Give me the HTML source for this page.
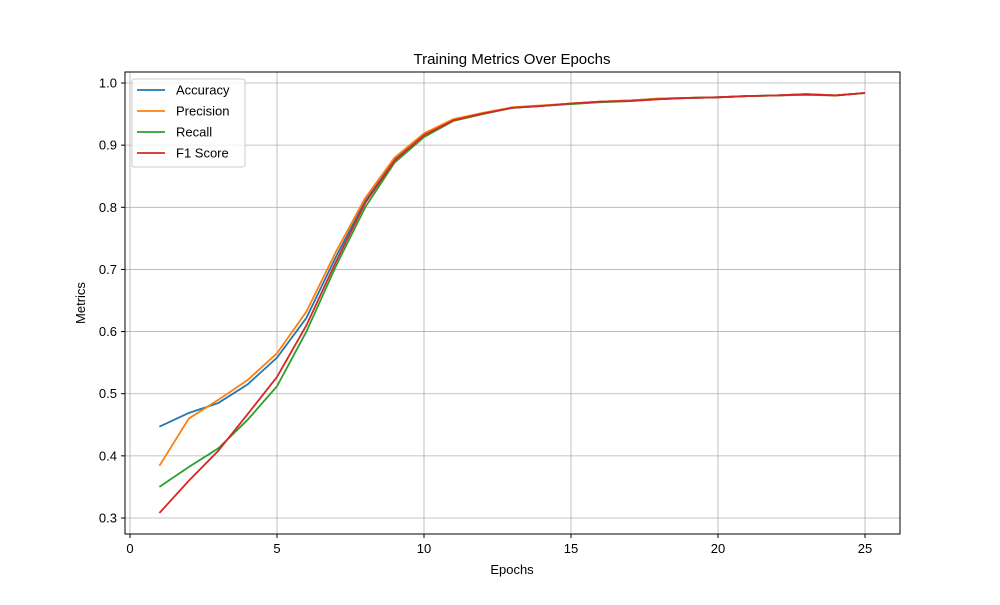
<!DOCTYPE html>
<html><head><meta charset="utf-8"><style>
body{margin:0;background:#fff;}
svg{font-family:"Liberation Sans","DejaVu Sans",sans-serif;}
</style></head><body>
<svg id="chart" width="1000" height="600" viewBox="0 0 1000 600">
<rect width="1000" height="600" fill="#fff"/>
<g id="grid"></g>
<g id="series"></g>
<rect x="125" y="72" width="775" height="462" fill="none" stroke="#000" stroke-width="1"/>
<g id="ticks" font-size="13"></g>
<text x="512" y="64" text-anchor="middle" font-size="15">Training Metrics Over Epochs</text>
<text x="512" y="574" text-anchor="middle" font-size="13">Epochs</text>
<text x="85" y="303" text-anchor="middle" font-size="13" transform="rotate(-90 85 303)">Metrics</text>
<g id="legend">
<rect x="132" y="79" width="113" height="88" fill="#fff" fill-opacity="0.8" stroke="#ccc" rx="2"/>
</g>
</svg>
<script>
const epochs=[1,2,3,4,5,6,7,8,9,10,11,12,13,14,15,16,17,18,19,20,21,22,23,24,25];
const accuracy=[0.447,0.469,0.485,0.515,0.558,0.622,0.72,0.81,0.877,0.917,0.94,0.951,0.96,0.963,0.967,0.97,0.972,0.975,0.976,0.977,0.979,0.98,0.982,0.98,0.984];
const precision=[0.384,0.46,0.49,0.522,0.565,0.632,0.728,0.815,0.88,0.919,0.942,0.952,0.961,0.964,0.967,0.97,0.972,0.975,0.976,0.977,0.979,0.98,0.982,0.98,0.984];
const recall=[0.35,0.382,0.412,0.458,0.512,0.6,0.705,0.8,0.872,0.913,0.939,0.95,0.96,0.963,0.966,0.969,0.971,0.974,0.976,0.977,0.979,0.98,0.981,0.98,0.984];
const f1=[0.308,0.36,0.408,0.467,0.527,0.61,0.712,0.807,0.875,0.916,0.94,0.951,0.96,0.963,0.967,0.97,0.971,0.974,0.976,0.977,0.979,0.98,0.982,0.98,0.984];
const xTicks=[0,5,10,15,20,25];
const yTicks=[0.3,0.4,0.5,0.6,0.7,0.8,0.9,1.0];
const seriesNames=["Accuracy","Precision","Recall","F1 Score"];
const seriesColors=["#1f77b4","#ff7f0e","#2ca02c","#d62728"];
const seriesData=[accuracy,precision,recall,f1];
const NS="http://www.w3.org/2000/svg";
function xs(v){return 130+v*29.4;}
function ys(v){return 518-(v-0.3)*621.4;}
const grid=document.getElementById('grid'),ticks=document.getElementById('ticks');
function mk(tag,attrs,parent){const e=document.createElementNS(NS,tag);for(const k in attrs)e.setAttribute(k,attrs[k]);parent.appendChild(e);return e;}
xTicks.forEach(t=>{
  const g=mk('line',{x1:xs(t),x2:xs(t),y1:72,y2:534,stroke:'#b0b0b0','stroke-width':0.8},grid);
  
  
  mk('line',{x1:xs(t),x2:xs(t),y1:534,y2:538,stroke:'#000'},ticks);
  const l=mk('text',{x:xs(t),y:553,'text-anchor':'middle'},ticks);l.textContent=t;
  
  
});
yTicks.forEach(t=>{
  const g=mk('line',{x1:125,x2:900,y1:ys(t),y2:ys(t),stroke:'#b0b0b0','stroke-width':0.8},grid);
  
  
  mk('line',{x1:121,x2:125,y1:ys(t),y2:ys(t),stroke:'#000'},ticks);
  const l=mk('text',{x:117,y:ys(t)+4.5,'text-anchor':'end'},ticks);l.textContent=t.toFixed(1);
  
  
});
const sg=document.getElementById('series'),lg=document.getElementById('legend');
seriesData.forEach((d,i)=>{
  const p=mk('polyline',{points:d.map((v,j)=>xs(epochs[j])+','+ys(v)).join(' '),fill:'none',stroke:seriesColors[i],'stroke-width':1.8},sg);
  
  
  const y=90+i*21;
  mk('line',{x1:137,x2:165,y1:y,y2:y,stroke:seriesColors[i],'stroke-width':1.8},lg);
  const t=mk('text',{x:176,y:y+4.5,'font-size':13},lg);t.textContent=seriesNames[i];
  
  
});
</script>
</body></html>
